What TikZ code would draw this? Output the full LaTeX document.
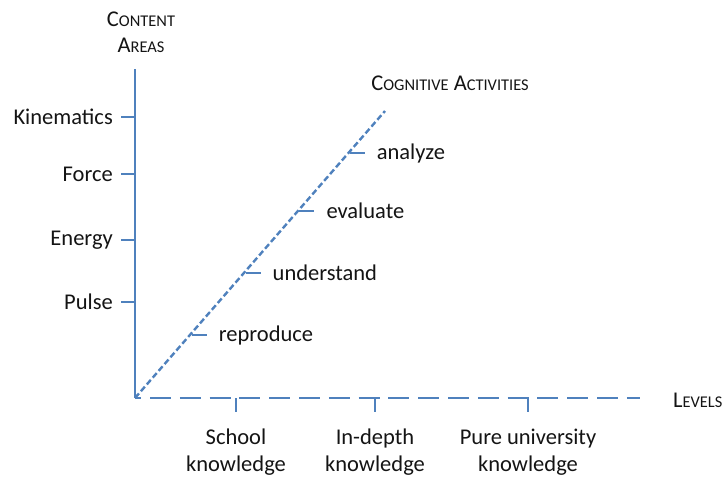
\documentclass[tikz,border=0pt]{standalone}
\usepackage{fontspec}
\setmainfont{Carlito}
\definecolor{axisblue}{HTML}{4F81BD}
\definecolor{txt}{HTML}{141414}
\newcommand{\mysc}[2]{{\fontsize{22.5}{27}\selectfont #1}{\fontsize{16.4}{27}\selectfont #2}}
\begin{document}
\begin{tikzpicture}[x=1pt,y=-1pt,
  every node/.style={text=txt,font=\fontsize{22.5}{27}\selectfont,inner sep=0pt},
  axisline/.style={draw=axisblue,line width=2.4pt},
  levdash/.style={axisline,dash pattern=on 21pt off 8.8pt,dash phase=14.8pt},
  diagdash/.style={axisline,dash pattern=on 6pt off 3pt},
  tick/.style={draw=axisblue,line width=1.2pt},
  ylab/.style={anchor=east},
  dlab/.style={anchor=west},
  xlab/.style={align=center,anchor=north}]
\useasboundingbox (0,0) rectangle (724,477);
% axes
\coordinate (O) at (135,398);
\coordinate (ytop) at (135,69);
\coordinate (xend) at (640,398);
\coordinate (dend) at (385,111);
\draw[axisline] (ytop) -- (O);
\draw[levdash] (O) -- (xend);
\draw[diagdash] (O) -- (dend);
% titles
\node (ca) at (141,32) [align=center] {\mysc{C}{ONTENT}\\[-1pt]\mysc{A}{REAS}};
\node (cog) at (450,83) {\mysc{C}{OGNITIVE} \mysc{A}{CTIVITIES}};
\node (lev) at (673,400) [anchor=west] {\mysc{L}{EVELS}};
% content areas
\foreach \n/\y/\t in {kin/117/Kinematics,for/174/Force,ene/240/Energy,pul/302/Pulse}{
  \coordinate (\n t) at (121,\y);
  \coordinate (\n a) at (135,\y);
  \draw[tick] (\n t) -- (\n a);
  \node[ylab] (\n) at (113,\y) {\t};
}
% levels
\foreach \n/\x/\t in {sch/236/School\\knowledge,ind/375/In-depth\\knowledge,pur/528/Pure university\\knowledge}{
  \coordinate (\n a) at (\x,398);
  \coordinate (\n t) at (\x,412);
  \draw[tick] (\n a) -- (\n t);
  \node[xlab] (\n) at (\x,429) {\t};
}
% cognitive activities
\foreach \n/\y/\t in {rep/335/reproduce,und/273/understand,eva/211/evaluate,ana/153/analyze}{
  \pgfmathsetmacro{\xx}{135+(398-\y)*0.868+2}
  \coordinate (\n a) at (\xx,\y);
  \coordinate (\n t) at (\xx+15,\y);
  \draw[tick] (\n a) -- (\n t);
  \node[dlab] (\n) at (\xx+27,\y) {\t};
}
\end{tikzpicture}
\end{document}
